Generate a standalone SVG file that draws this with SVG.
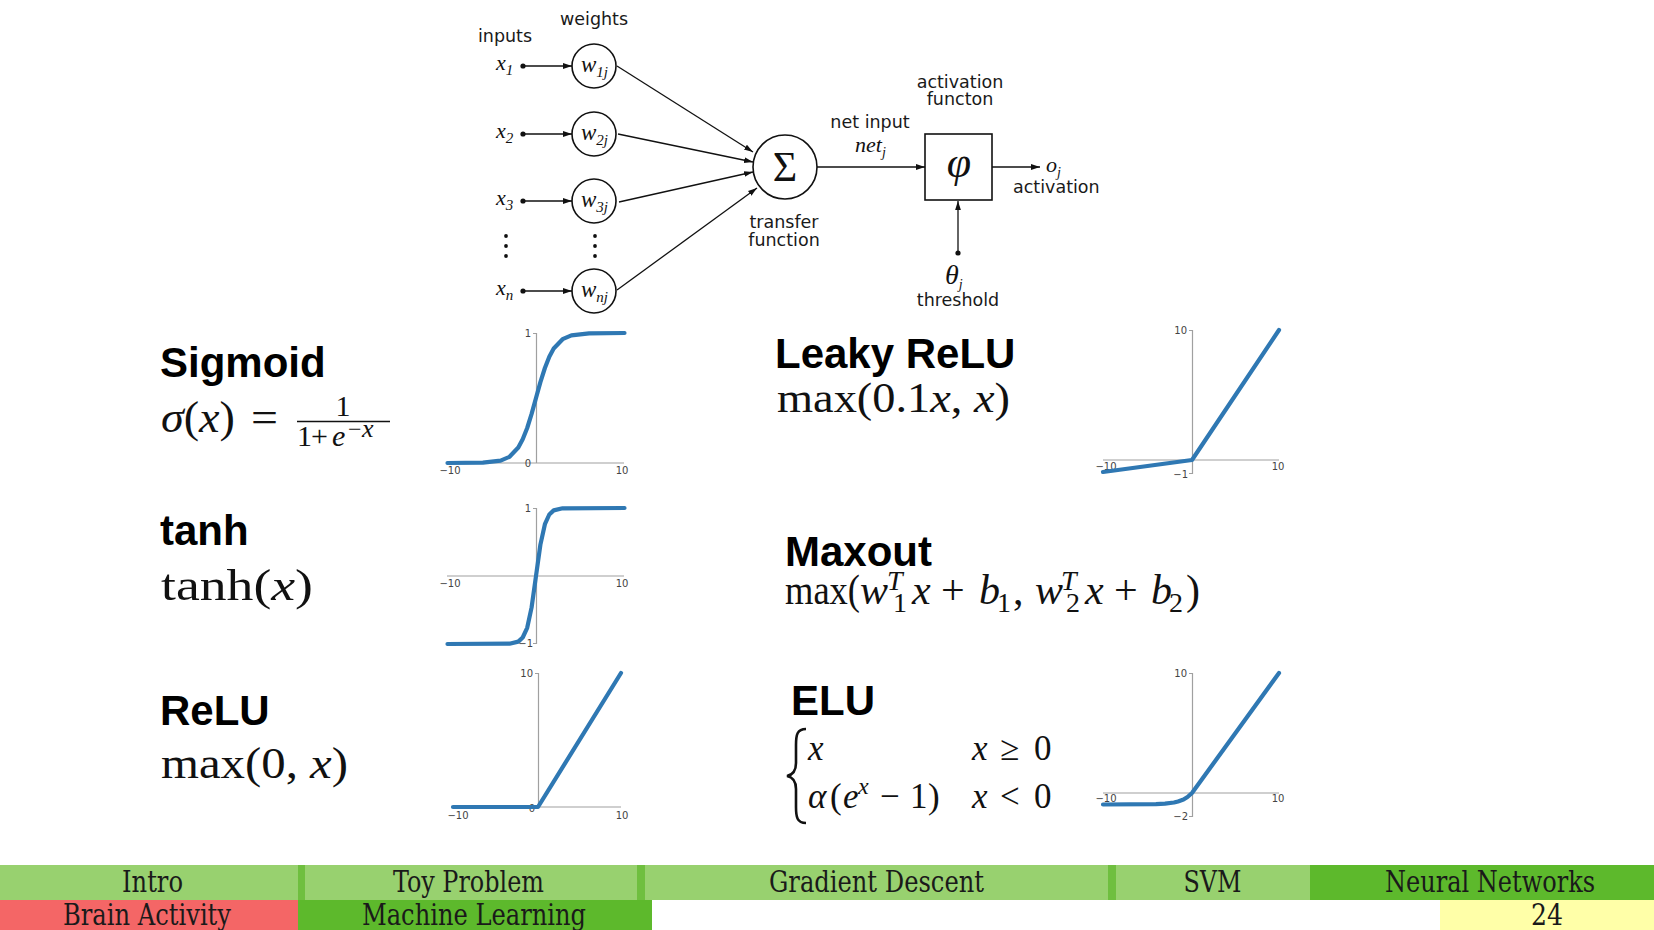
<svg xmlns="http://www.w3.org/2000/svg" width="1654" height="930" viewBox="0 0 1654 930">
<defs>
<marker id="arr" viewBox="0 0 10 10" refX="10" refY="5" markerWidth="9" markerHeight="9" markerUnits="userSpaceOnUse" orient="auto"><path d="M0,1.8 L10,5 L0,8.2 z" fill="#111"/></marker>
<style>
.lbl{font-family:"DejaVu Sans",sans-serif;font-size:17.5px;fill:#1a1a1a}
.c{text-anchor:middle}
.m{font-family:"Liberation Serif",serif;fill:#111}
.it{font-style:italic}
.h{font-family:"Liberation Sans",Arial,sans-serif;font-weight:bold;font-size:42px;fill:#000}
.tk{font-family:"DejaVu Sans",sans-serif;font-size:10px;fill:#444}
.ax{stroke:#a0a0a0;stroke-width:1.2;fill:none}
.cv{stroke:#2f78b3;stroke-width:4.2;fill:none;stroke-linejoin:round;stroke-linecap:round}
.nd{fill:#fff;stroke:#111;stroke-width:1.6}
.ln{stroke:#111;stroke-width:1.3;fill:none}
.ft{font-family:"DejaVu Serif Condensed","DejaVu Serif",serif;font-stretch:condensed;font-size:29px;fill:#1a1a1a;text-anchor:middle}
</style>
</defs>
<rect width="1654" height="930" fill="#fff"/>

<!-- network diagram -->
<g id="labels-top">
<text class="lbl c" x="594" y="25">weights</text>
<text class="lbl c" x="505" y="42">inputs</text>
</g>
<g id="input-x1"><text class="m it" x="496" y="70" font-size="22">x<tspan font-size="15" dy="5">1</tspan></text><circle cx="523" cy="66" r="2.6" fill="#111"/></g>
<g id="input-x2"><text class="m it" x="496" y="138" font-size="22">x<tspan font-size="15" dy="5">2</tspan></text><circle cx="523" cy="134" r="2.6" fill="#111"/></g>
<g id="input-x3"><text class="m it" x="496" y="205" font-size="22">x<tspan font-size="15" dy="5">3</tspan></text><circle cx="523" cy="201" r="2.6" fill="#111"/></g>
<g id="input-xn"><text class="m it" x="496" y="295" font-size="22">x<tspan font-size="15" dy="5">n</tspan></text><circle cx="523" cy="291" r="2.6" fill="#111"/></g>
<g id="vdots" fill="#111">
<circle cx="506" cy="236" r="1.9"/><circle cx="506" cy="246" r="1.9"/><circle cx="506" cy="256" r="1.9"/>
<circle cx="595" cy="236" r="1.9"/><circle cx="595" cy="246" r="1.9"/><circle cx="595" cy="256" r="1.9"/>
</g>
<g id="w1j"><circle class="nd" cx="594" cy="66" r="22"/><text class="m it" x="581" y="72" font-size="23">w<tspan font-size="15" dy="5">1j</tspan></text></g>
<g id="w2j"><circle class="nd" cx="594" cy="134" r="22"/><text class="m it" x="581" y="140" font-size="23">w<tspan font-size="15" dy="5">2j</tspan></text></g>
<g id="w3j"><circle class="nd" cx="594" cy="201" r="22"/><text class="m it" x="581" y="207" font-size="23">w<tspan font-size="15" dy="5">3j</tspan></text></g>
<g id="wnj"><circle class="nd" cx="594" cy="291" r="22"/><text class="m it" x="581" y="297" font-size="23">w<tspan font-size="15" dy="5">nj</tspan></text></g>
<g id="sigma"><circle class="nd" cx="785" cy="167" r="32"/><text class="m c" x="785" y="181" font-size="42">Σ</text>
<text class="lbl c" x="784" y="228">transfer</text><text class="lbl c" x="784" y="246">function</text></g>
<g id="netinput"><text class="lbl c" x="870" y="128">net input</text><text class="m it" x="855" y="152" font-size="22">net<tspan font-size="14" dy="5">j</tspan></text></g>
<g id="phi"><rect class="nd" x="925" y="134" width="67" height="66"/><text class="m it c" x="959" y="177" font-size="44">φ</text>
<text class="lbl c" x="960" y="88">activation</text><text class="lbl c" x="960" y="105">functon</text></g>
<g id="output"><text class="m it" x="1046" y="172" font-size="22">o<tspan font-size="14" dy="5">j</tspan></text><text class="lbl" x="1013" y="193">activation</text></g>
<g id="threshold"><circle cx="958" cy="253" r="2.6" fill="#111"/><text class="m it" x="945" y="284" font-size="28">θ<tspan font-size="14" dy="5">j</tspan></text><text class="lbl c" x="958" y="306">threshold</text></g>

<g id="connectors">
<line class="ln" x1="523" y1="66" x2="572" y2="66" marker-end="url(#arr)"/>
<line class="ln" x1="523" y1="134" x2="572" y2="134" marker-end="url(#arr)"/>
<line class="ln" x1="523" y1="201" x2="572" y2="201" marker-end="url(#arr)"/>
<line class="ln" x1="523" y1="291" x2="572" y2="291" marker-end="url(#arr)"/>
<line class="ln" x1="617" y1="66" x2="753" y2="152" marker-end="url(#arr)"/>
<line class="ln" x1="618" y1="134" x2="753" y2="162" marker-end="url(#arr)"/>
<line class="ln" x1="619" y1="202" x2="753" y2="172" marker-end="url(#arr)"/>
<line class="ln" x1="617" y1="290" x2="757" y2="188" marker-end="url(#arr)"/>
<line class="ln" x1="817" y1="167" x2="925" y2="167" marker-end="url(#arr)"/>
<line class="ln" x1="992" y1="167" x2="1040" y2="167" marker-end="url(#arr)"/>
<line class="ln" x1="958" y1="253" x2="958" y2="201" marker-end="url(#arr)"/>
</g>

<!-- Sigmoid -->
<g id="sigmoid">
<text class="h" x="160" y="377">Sigmoid</text>
<text class="m" x="161" y="432" font-size="44" textLength="74" lengthAdjust="spacingAndGlyphs"><tspan class="it">σ</tspan>(<tspan class="it">x</tspan>)</text>
<text class="m" x="251" y="432" font-size="44" textLength="27" lengthAdjust="spacingAndGlyphs">=</text>
<text class="m c" x="343" y="416" font-size="30">1</text>
<line x1="297" y1="421.5" x2="390" y2="421.5" stroke="#111" stroke-width="1.5"/>
<text class="m" x="297" y="446" font-size="30">1</text>
<text class="m" x="311" y="446" font-size="30">+</text>
<text class="m it" x="332" y="446" font-size="30">e</text>
<text class="m" x="348" y="437" font-size="24">−</text>
<text class="m it" x="362" y="437" font-size="26">x</text>
<path class="ax" d="M536.5,333 V463 M447,463 H624 M533,333.5 H536.5"/>
<text class="tk" x="531" y="337" text-anchor="end">1</text>
<text class="tk" x="531" y="467" text-anchor="end">0</text>
<text class="tk c" x="450" y="474">−10</text>
<text class="tk c" x="622" y="474">10</text>
<path class="cv" d="M447.5,463 L482.9,462.7 L500.6,460.7 L509.5,456.8 L518.3,447.5 L522.7,439.3 L527.2,428 L531.6,413.9 L536,398 L540.4,382.1 L544.9,368 L549.3,356.7 L553.7,348.5 L562.6,339.2 L571.4,335.3 L589.1,333.3 L624.5,333"/>
</g>

<!-- tanh -->
<g id="tanh">
<text class="h" x="160" y="545">tanh</text>
<text class="m" x="161" y="600" font-size="45" textLength="152" lengthAdjust="spacingAndGlyphs">tanh(<tspan class="it">x</tspan>)</text>
<path class="ax" d="M536.5,508 V644 M447,576 H624 M533,508.5 H536.5 M533,643.5 H536.5"/>
<text class="tk" x="531" y="512" text-anchor="end">1</text>
<text class="tk" x="533" y="647" text-anchor="end">−1</text>
<text class="tk c" x="450" y="587">−10</text>
<text class="tk c" x="622" y="587">10</text>
<path class="cv" d="M447.5,644 L509.5,643.7 L518.3,641.6 L522.7,637.5 L527.2,627.8 L531.6,607.4 L536,576 L540.4,544.6 L544.9,524.2 L549.3,514.5 L553.7,510.4 L562.6,508.3 L624.5,508"/>
</g>

<!-- ReLU -->
<g id="relu">
<text class="h" x="160" y="725">ReLU</text>
<text class="m" x="161" y="778" font-size="45" textLength="187" lengthAdjust="spacingAndGlyphs">max(0, <tspan class="it">x</tspan>)</text>
<path class="ax" d="M538.5,673 V807 M453,807 H621 M535,673.5 H538.5"/>
<text class="tk" x="533" y="677" text-anchor="end">10</text>
<text class="tk" x="532" y="812" text-anchor="middle">0</text>
<text class="tk c" x="458" y="819">−10</text>
<text class="tk c" x="622" y="819">10</text>
<path class="cv" d="M453,807 L538,807 L621,673"/>
</g>

<!-- Leaky ReLU -->
<g id="leaky-relu">
<text class="h" x="775" y="368">Leaky ReLU</text>
<text class="m" x="777" y="412" font-size="43" textLength="233" lengthAdjust="spacingAndGlyphs">max(0.1<tspan class="it">x</tspan>, <tspan class="it">x</tspan>)</text>
<path class="ax" d="M1192.5,330 V474 M1103,460 H1279 M1189,330.5 H1192.5 M1189,473.5 H1192.5"/>
<text class="tk" x="1187" y="334" text-anchor="end">10</text>
<text class="tk" x="1188" y="478" text-anchor="end">−1</text>
<text class="tk c" x="1106" y="470">−10</text>
<text class="tk c" x="1278" y="470">10</text>
<path class="cv" d="M1103,472 L1192,460 L1279,330"/>
</g>

<!-- Maxout -->
<g id="maxout">
<text class="h" x="785" y="566">Maxout</text>
<g class="m" font-size="42">
<text x="785" y="604" textLength="75" lengthAdjust="spacingAndGlyphs">max(</text>
<text class="it" x="860" y="604">w</text>
<text class="it" x="887" y="590" font-size="28">T</text>
<text x="893" y="612" font-size="28">1</text>
<text class="it" x="912" y="604">x</text>
<text x="941" y="604">+</text>
<text class="it" x="979" y="604">b</text>
<text x="997" y="612" font-size="28">1</text>
<text x="1013" y="604">,</text>
<text class="it" x="1035" y="604">w</text>
<text class="it" x="1061" y="590" font-size="28">T</text>
<text x="1066" y="612" font-size="28">2</text>
<text class="it" x="1085" y="604">x</text>
<text x="1114" y="604">+</text>
<text class="it" x="1151" y="604">b</text>
<text x="1169" y="612" font-size="28">2</text>
<text x="1186" y="604">)</text>
</g>
</g>

<!-- ELU -->
<g id="elu">
<text class="h" x="791" y="715">ELU</text>
<path d="M806,729 C797,729 796,735 796,745 L796,763 C796,771 792,775 787,776 C792,777 796,781 796,789 L796,807 C796,817 797,823 806,823" fill="none" stroke="#111" stroke-width="2.6"/>
<g class="m" font-size="35">
<text class="it" x="808" y="760">x</text>
<text class="it" x="972" y="760">x</text>
<text x="1000" y="760">≥</text>
<text x="1034" y="760">0</text>
<text class="it" x="808" y="808">α</text>
<text x="830" y="808">(</text>
<text class="it" x="843" y="808">e</text>
<text class="it" x="858" y="794" font-size="24">x</text>
<text x="880" y="808">−</text>
<text x="910" y="808">1</text>
<text x="928" y="808">)</text>
<text class="it" x="972" y="808">x</text>
<text x="1000" y="808">&lt;</text>
<text x="1034" y="808">0</text>
</g>
<path class="ax" d="M1192.5,673 V817 M1103,793 H1279 M1189,673.5 H1192.5 M1189,816.5 H1192.5"/>
<text class="tk" x="1187" y="677" text-anchor="end">10</text>
<text class="tk" x="1188" y="820" text-anchor="end">−2</text>
<text class="tk c" x="1106" y="802">−10</text>
<text class="tk c" x="1278" y="802">10</text>
<path class="cv" d="M1103,804.5 L1156,804.2 L1165,803.6 L1174,802.5 L1178,801.4 L1183.5,799.5 L1187.5,797 L1192,793 L1279,673"/>
</g>

<!-- footer -->
<g id="footer">
<rect x="0" y="865" width="1654" height="35" fill="#6fbf3f"/>
<rect x="0" y="865" width="298" height="35" fill="#98d16f"/>
<rect x="305" y="865" width="332" height="35" fill="#98d16f"/>
<rect x="645" y="865" width="463" height="35" fill="#98d16f"/>
<rect x="1116" y="865" width="194" height="35" fill="#98d16f"/>
<rect x="1310" y="865" width="344" height="35" fill="#5db92c"/>
<rect x="0" y="900" width="298" height="30" fill="#f46666"/>
<rect x="298" y="900" width="354" height="30" fill="#5db92c"/>
<rect x="1440" y="900" width="214" height="30" fill="#ffffa8"/>
<text class="ft" x="152.5" y="892" textLength="61" lengthAdjust="spacingAndGlyphs">Intro</text>
<text class="ft" x="468.5" y="892" textLength="151" lengthAdjust="spacingAndGlyphs">Toy Problem</text>
<text class="ft" x="876.5" y="892" textLength="215" lengthAdjust="spacingAndGlyphs">Gradient Descent</text>
<text class="ft" x="1212.5" y="892" textLength="58" lengthAdjust="spacingAndGlyphs">SVM</text>
<text class="ft" x="1490" y="892" textLength="210" lengthAdjust="spacingAndGlyphs">Neural Networks</text>
<text class="ft" x="147" y="925" textLength="168" lengthAdjust="spacingAndGlyphs">Brain Activity</text>
<text class="ft" x="474" y="925" textLength="224" lengthAdjust="spacingAndGlyphs">Machine Learning</text>
<text class="ft" x="1547" y="925" fill="#2f5c8e" textLength="32" lengthAdjust="spacingAndGlyphs">24</text>
</g>
</svg>
